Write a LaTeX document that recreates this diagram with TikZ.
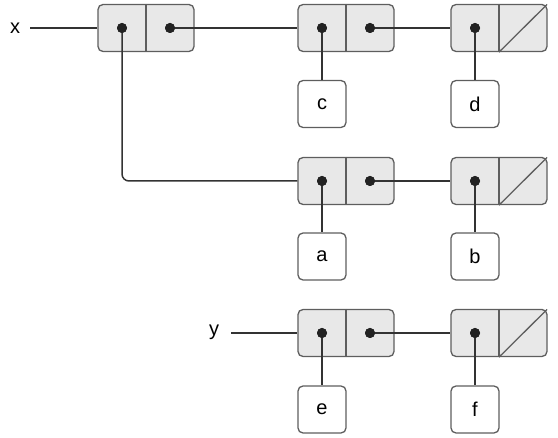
\documentclass[tikz,border=0pt]{standalone}
\usepackage{fontspec}
\setmainfont{Liberation Sans}
\definecolor{cellfill}{HTML}{E8E8E8}
\definecolor{cellline}{HTML}{5E5E5E}
\definecolor{wire}{HTML}{333333}
\definecolor{dotc}{HTML}{222222}
\tikzset{
  cons/.style={draw=cellline, fill=cellfill, line width=1.3pt, rounded corners=5pt,
    minimum width=96pt, minimum height=47pt, inner sep=0pt},
  atom/.style={draw=cellline, fill=white, line width=1.3pt, rounded corners=5pt,
    minimum width=48pt, minimum height=47pt, inner sep=0pt, font=\fontsize{20}{24}\selectfont},
  lbl/.style={inner sep=0pt, font=\fontsize{20}{24}\selectfont},
  ptr/.style={circle, fill=dotc, inner sep=0pt, minimum size=10pt},
  wireline/.style={draw=wire, line width=1.5pt},
  divider/.style={draw=cellline, line width=1.3pt},
}
\begin{document}
\begin{tikzpicture}[x=1pt,y=-1pt]
\useasboundingbox (0,0) rectangle (558,438);
% cons cells
\node[cons] (c1) at (146,28) {};
\node[cons] (c2) at (346,28) {};
\node[cons] (c3) at (499,28) {};
\node[cons] (c4) at (346,181) {};
\node[cons] (c5) at (499,181) {};
\node[cons] (c6) at (346,333) {};
\node[cons] (c7) at (499,333) {};
% dividers and nil slashes
\foreach \c in {c1,c2,c3,c4,c5,c6,c7} {\draw[divider] (\c.north) -- (\c.south);}
\foreach \c in {c3,c5,c7} {\draw[divider] (\c.south) -- ([xshift=-0.6pt,yshift=-0.6pt]\c.north east);}
% atoms
\node[atom] (ac) at (322,104) {c};
\node[atom] (ad) at (475,104) {d};
\node[atom] (aa) at (322,256.5) {a};
\node[atom] (ab) at (475,256.5) {b};
\node[atom] (ae) at (322,409.5) {e};
\node[atom] (af) at (475,409.5) {f};
% labels
\node[lbl] (xl) at (15,28) {x};
\node[lbl] (yl) at (214,332) {y};
% dots
\node[ptr] (p1a) at (122,28) {};
\node[ptr] (p1d) at (170,28) {};
\node[ptr] (p2a) at (322,28) {};
\node[ptr] (p2d) at (370,28) {};
\node[ptr] (p3a) at (475,28) {};
\node[ptr] (p4a) at (322,181) {};
\node[ptr] (p4d) at (370,181) {};
\node[ptr] (p5a) at (475,181) {};
\node[ptr] (p6a) at (322,333) {};
\node[ptr] (p6d) at (370,333) {};
\node[ptr] (p7a) at (475,333) {};
% connectors
\draw[wireline] (30,28) coordinate (xs) -- (c1.west);
\draw[wireline] (231,333) coordinate (ys) -- (c6.west);
\draw[wireline] (p1d.center) -- (c2.west);
\draw[wireline, rounded corners=7pt] (p1a.center) |- (c4.west);
\draw[wireline] (p2d.center) -- (c3.west);
\draw[wireline] (p4d.center) -- (c5.west);
\draw[wireline] (p6d.center) -- (c7.west);
\draw[wireline] (p2a.center) -- (ac.north);
\draw[wireline] (p3a.center) -- (ad.north);
\draw[wireline] (p4a.center) -- (aa.north);
\draw[wireline] (p5a.center) -- (ab.north);
\draw[wireline] (p6a.center) -- (ae.north);
\draw[wireline] (p7a.center) -- (af.north);
% redraw dots on top
\foreach \p in {p1a,p1d,p2a,p2d,p3a,p4a,p4d,p5a,p6a,p6d,p7a} {\fill[dotc] (\p) circle (5pt);}
\end{tikzpicture}
\end{document}
